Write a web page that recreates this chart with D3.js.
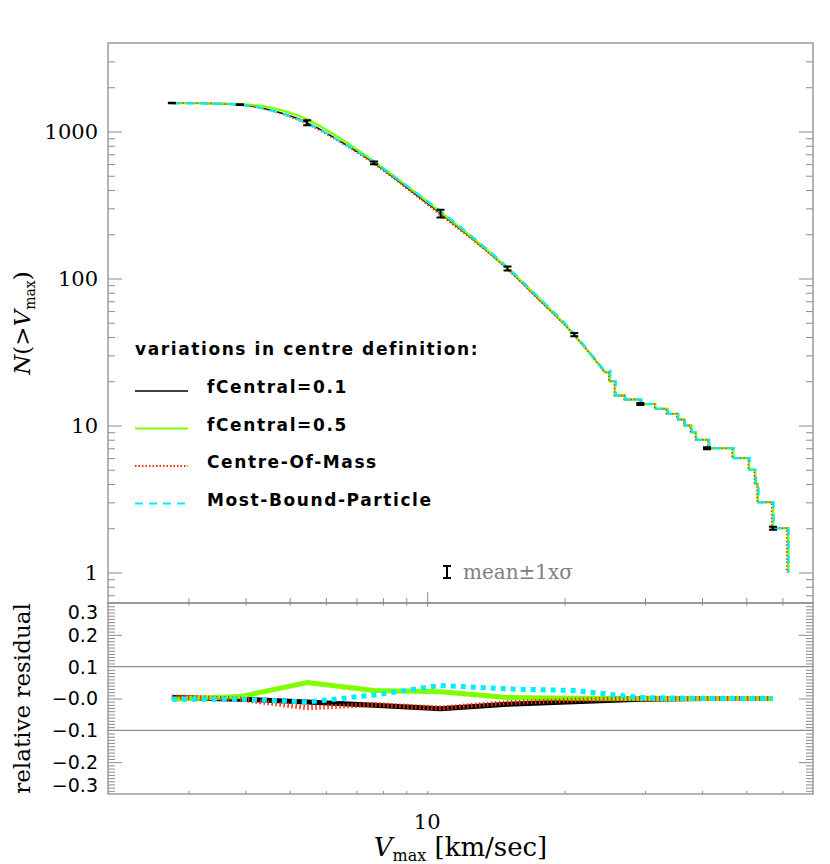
<!DOCTYPE html>
<html>
<head>
<meta charset="utf-8">
<script src="https://cdn.jsdelivr.net/npm/d3@7"></script>
<style>
  body { margin: 0; background: #fff; }
  svg text { fill: #000; }
</style>
</head>
<body>
<script>
// bin centres (km/sec) used for error bars and residuals
const vBins = [2.76, 3.89, 5.46, 7.65, 10.7, 15.0, 21.0, 29.3, 41.0, 57.2];
const meanN = [1560, 1525, 1150, 612, 277, 117, 41.5, 14, 7, 2];
const sigmaN = [6, 8, 45, 14, 17, 3.5, 1, 0.2, 0.1, 0.05];

// smooth part of N(>Vmax)
const vSmooth = [2.76, 3.18, 3.91, 4.53, 5.46, 6.44, 7.65, 9.08, 10.7, 12.73, 14.96, 17.67, 20.97, 22.7, 24.5];
const nCentral01 = [1560, 1555, 1520, 1400, 1150, 860, 612, 410, 277, 180, 117, 71, 41.5, 31, 23];
const nCentral05 = [1560, 1560, 1532, 1455, 1210, 900, 625, 420, 283, 183, 118, 72, 41.5, 31, 23];
const nCoM       = [1565, 1555, 1518, 1390, 1120, 845, 600, 402, 269, 177, 116, 70, 41.3, 31, 23];
const nMBP       = [1555, 1552, 1515, 1395, 1140, 860, 620, 420, 288, 186, 120, 73, 42.5, 31.5, 23.5];

// tail: one step per halo
const nSteps = [20, 16, 15, 14, 13, 12, 11, 10, 9, 8, 7, 6, 5, 4, 3, 2, 1];
const vStepsCentral01 = [25.1, 25.8, 27.1, 29.4, 31.6, 33.6, 35.4, 36.6, 37.9, 38.8, 41.4, 46.8, 50.7, 52.3, 53.0, 57.2, 61.7];
const vStepsCentral05 = [25.1, 25.8, 27.1, 29.4, 31.6, 33.6, 35.4, 36.6, 37.9, 38.8, 41.4, 46.8, 50.7, 52.3, 53.0, 57.2, 61.8];
const vStepsCoM       = [25.0, 25.7, 27.0, 29.3, 31.5, 33.4, 35.2, 36.5, 37.7, 38.7, 41.2, 46.5, 50.5, 52.1, 52.8, 56.8, 61.3];
const vStepsMBP       = [25.2, 25.9, 27.2, 29.5, 31.7, 33.7, 35.5, 36.7, 38.0, 38.9, 41.5, 47.0, 50.9, 52.5, 53.2, 57.4, 61.9];

// relative residuals at the bin centres
const resCentral01 = [0.003, -0.002, -0.011, -0.021, -0.032, -0.018, -0.010, -0.002, 0, 0];
const resCentral05 = [-0.002, 0.006, 0.050, 0.025, 0.021, 0.003, 0.001, 0, 0, 0];
const resCoM       = [0.005, -0.002, -0.029, -0.019, -0.030, -0.013, -0.005, 0, 0, 0];
const resMBP       = [-0.002, -0.002, -0.011, 0.011, 0.041, 0.030, 0.025, 0.003, 0, 0];

const seriesNames = ["fCentral=0.1", "fCentral=0.5", "Centre-Of-Mass", "Most-Bound-Particle"];

// tick values
const xMajor = [10];
const xMinor = [3, 4, 5, 6, 7, 8, 9, 20, 30, 40, 50, 60];
const yMajor = [1, 10, 100, 1000];
const yMinor = [0.7, 0.8, 0.9, 2, 3, 4, 5, 6, 7, 8, 9, 20, 30, 40, 50, 60, 70, 80, 90,
                200, 300, 400, 500, 600, 700, 800, 900, 2000, 3000];
const resTicks = [0.3, 0.2, 0.1, 0.0, -0.1, -0.2, -0.3];
const resLabels = ["0.3", "0.2", "0.1", "\u22120.0", "\u22120.1", "\u22120.2", "\u22120.3"];

const W = 830, H = 864;
const pLeft = 108, pRight = 813, pTop = 43, pMid = 603, pBottom = 794;
const frameCol = "#8c8c8c";

const svg = d3.select("body").append("svg").attr("width", W).attr("height", H);

const x = d3.scaleLog().domain([2, 70]).range([pLeft, pRight]);
const y = d3.scaleLog().domain([0.62, 4000]).range([pMid, pTop]);
const yr = d3.scaleLinear().domain([-0.3, 0.3]).range([pBottom, pMid]);

const series = [
  {n: nCentral01, v: vStepsCentral01, r: resCentral01, color: "#000000", w: 1.5, wr: 5, dash: null, dashR: null},
  {n: nCentral05, v: vStepsCentral05, r: resCentral05, color: "#7fff00", w: 2.4, wr: 5, dash: null, dashR: null},
  {n: nCoM, v: vStepsCoM, r: resCoM, color: "#ff2a00", w: 1.5, wr: 5, dash: "1.5,2", dashR: "1.5,2.5"},
  {n: nMBP, v: vStepsMBP, r: resMBP, color: "#00eeff", w: 2.2, wr: 5, dash: "8,6", dashR: "5,5"}
];

function tickGroup(g, axis) {
  g.call(axis);
  g.select(".domain").remove();
  g.selectAll("line").attr("stroke", frameCol);
  g.selectAll("text").remove();
}

// ---- top panel ticks ----
svg.append("g").attr("transform", `translate(0,${pMid})`)
  .call(g => tickGroup(g, d3.axisBottom(x).tickValues(xMajor).tickSize(-11)));
svg.append("g").attr("transform", `translate(0,${pMid})`)
  .call(g => tickGroup(g, d3.axisBottom(x).tickValues(xMinor).tickSize(-5)));
svg.append("g").attr("transform", `translate(${pLeft},0)`)
  .call(g => tickGroup(g, d3.axisLeft(y).tickValues(yMajor).tickSize(-14)));
svg.append("g").attr("transform", `translate(${pLeft},0)`)
  .call(g => tickGroup(g, d3.axisLeft(y).tickValues(yMinor).tickSize(-7)));
svg.append("g").attr("transform", `translate(${pRight},0)`)
  .call(g => tickGroup(g, d3.axisRight(y).tickValues(yMajor).tickSize(-14)));
svg.append("g").attr("transform", `translate(${pRight},0)`)
  .call(g => tickGroup(g, d3.axisRight(y).tickValues(yMinor).tickSize(-7)));

svg.append("g").selectAll("text").data(yMajor).join("text")
  .attr("x", 98).attr("y", d => y(d)).attr("dy", "0.36em")
  .attr("text-anchor", "end")
  .style("font", "21px 'DejaVu Serif'")
  .text(d => d);

// ---- bottom panel ticks ----
const resMinor = d3.range(-30, 31).map(i => i / 100).filter(v => Math.abs(Math.round(v * 100) % 10) !== 0);
svg.append("g").attr("transform", `translate(0,${pMid})`)
  .call(g => tickGroup(g, d3.axisTop(x).tickValues(xMajor).tickSize(-4)));
svg.append("g").attr("transform", `translate(0,${pMid})`)
  .call(g => tickGroup(g, d3.axisTop(x).tickValues(xMinor).tickSize(-2.5)));
svg.append("g").attr("transform", `translate(0,${pBottom})`)
  .call(g => tickGroup(g, d3.axisBottom(x).tickValues(xMajor).tickSize(-3)));
svg.append("g").attr("transform", `translate(0,${pBottom})`)
  .call(g => tickGroup(g, d3.axisBottom(x).tickValues(xMinor).tickSize(-3)));
svg.append("g").attr("transform", `translate(${pLeft},0)`)
  .call(g => tickGroup(g, d3.axisLeft(yr).tickValues([0.2, 0, -0.2]).tickSize(-14)));
svg.append("g").attr("transform", `translate(${pLeft},0)`)
  .call(g => tickGroup(g, d3.axisLeft(yr).tickValues(resMinor).tickSize(-7)));
svg.append("g").attr("transform", `translate(${pRight},0)`)
  .call(g => tickGroup(g, d3.axisRight(yr).tickValues([0.2, 0, -0.2]).tickSize(-14)));
svg.append("g").attr("transform", `translate(${pRight},0)`)
  .call(g => tickGroup(g, d3.axisRight(yr).tickValues(resMinor).tickSize(-7)));

// grid lines at +-0.1
svg.append("g").selectAll("line").data([0.1, -0.1]).join("line")
  .attr("x1", pLeft).attr("x2", pRight)
  .attr("y1", d => yr(d)).attr("y2", d => yr(d))
  .attr("stroke", frameCol).attr("stroke-width", 1.2);

svg.append("g").selectAll("text").data(resTicks).join("text")
  .attr("x", 98)
  .attr("y", (d, i) => yr(d) + (i === 0 ? 9 : i === resTicks.length - 1 ? -9 : 0))
  .attr("dy", "0.36em")
  .attr("text-anchor", "end")
  .style("font", "19px 'DejaVu Sans'")
  .text((d, i) => resLabels[i]);

svg.append("g").selectAll("text").data(xMajor).join("text")
  .attr("x", d => x(d)).attr("y", 829)
  .attr("text-anchor", "middle")
  .style("font", "21px 'DejaVu Serif'")
  .text(d => d);

// frames
svg.append("rect").attr("x", pLeft).attr("y", pTop).attr("width", pRight - pLeft).attr("height", pMid - pTop)
  .attr("fill", "none").attr("stroke", frameCol).attr("stroke-width", 1.3);
svg.append("rect").attr("x", pLeft).attr("y", pMid).attr("width", pRight - pLeft).attr("height", pBottom - pMid)
  .attr("fill", "none").attr("stroke", frameCol).attr("stroke-width", 1.3);

// ---- curves ----
const smoothLine = d3.line().x(d => x(d[0])).y(d => y(d[1])).curve(d3.curveMonotoneX);
const stepLine = d3.line().x(d => x(d[0])).y(d => y(d[1])).curve(d3.curveStepAfter);
const resLine = d3.line().x((d, i) => x(vBins[i])).y(d => yr(d));

series.forEach(s => {
  const sm = vSmooth.map((v, i) => [v, s.n[i]]);
  const st = [sm[sm.length - 1]].concat(s.v.map((v, i) => [v, nSteps[i]]));
  const d = smoothLine(sm) + stepLine(st).replace(/^M/, "L");
  svg.append("path").attr("d", d)
    .attr("fill", "none").attr("stroke", s.color).attr("stroke-width", s.w)
    .attr("stroke-dasharray", s.dash);
  svg.append("path").attr("d", resLine(s.r))
    .attr("fill", "none").attr("stroke", s.color).attr("stroke-width", s.wr)
    .attr("stroke-linejoin", "round")
    .attr("stroke-dasharray", s.dashR);
});

// error bars: mean +- 1 sigma
function errBar(g, cx, y1, y2) {
  g.append("path")
    .attr("d", `M${cx - 4},${y1}H${cx + 4}M${cx},${y1}V${y2}M${cx - 4},${y2}H${cx + 4}`)
    .attr("fill", "none").attr("stroke", "#000").attr("stroke-width", 2);
}
const eb = svg.append("g");
vBins.forEach((v, i) => {
  errBar(eb, x(v), y(meanN[i] + sigmaN[i]), y(meanN[i] - sigmaN[i]));
});

// ---- legend ----
const lg = svg.append("g").style("font", "bold 17px 'DejaVu Sans'").style("letter-spacing", "1.6px");
lg.append("text").attr("x", 135).attr("y", 355).text("variations in centre definition:");
seriesNames.forEach((name, i) => {
  const yy = 391 + i * 37.5;
  const s = series[i];
  lg.append("line").attr("x1", 135).attr("x2", 188).attr("y1", yy).attr("y2", yy)
    .attr("stroke", s.color).attr("stroke-width", i === 0 ? 1.5 : 2)
    .attr("stroke-dasharray", s.dash);
  lg.append("text").attr("x", 207).attr("y", yy + 2).text(name);
});

errBar(svg, 447, 566, 578);
svg.append("text").attr("x", 463).attr("y", 579)
  .style("font", "20px 'DejaVu Serif'").style("fill", "#808080")
  .text("mean\u00b11x\u03c3");

// ---- axis titles ----
const yt = svg.append("text")
  .attr("transform", `translate(30,${(pTop + pMid) / 2}) rotate(-90)`)
  .attr("text-anchor", "middle")
  .style("font", "23px 'DejaVu Serif'");
yt.append("tspan").style("font-style", "italic").text("N");
yt.append("tspan").text("(>");
yt.append("tspan").style("font-style", "italic").text("V");
yt.append("tspan").attr("dy", 5).style("font-size", "14px").text("max");
yt.append("tspan").attr("dy", -5).text(")");

svg.append("text")
  .attr("transform", `translate(30,${(pMid + pBottom) / 2}) rotate(-90)`)
  .attr("text-anchor", "middle")
  .style("font", "23px 'DejaVu Serif'")
  .text("relative residual");

const xt = svg.append("text")
  .attr("x", (pLeft + pRight) / 2).attr("y", 856)
  .attr("text-anchor", "middle")
  .style("font", "26px 'DejaVu Serif'");
xt.append("tspan").style("font-style", "italic").text("V");
xt.append("tspan").attr("dy", 5).style("font-size", "16px").text("max");
xt.append("tspan").attr("dy", -5).text(" [km/sec]");
</script>
</body>
</html>
